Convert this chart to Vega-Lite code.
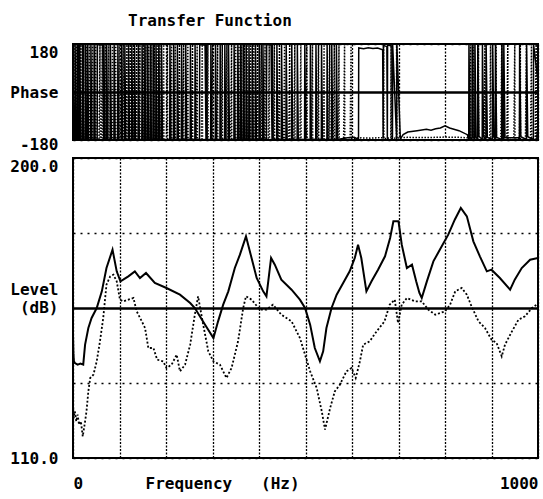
{
"$schema": "https://vega.github.io/schema/vega-lite/v6.json",
"autosize": {"type": "pad"},
"padding": {"left": 8, "top": 12, "right": 4, "bottom": 4},
"background": "white",
"bounds": "flush",
"spacing": 18,
"config": {
  "font": "DejaVu Sans Mono",
  "view": {"stroke": "black", "strokeWidth": 2},
  "axis": {"labelFont": "DejaVu Sans Mono", "labelFontWeight": "bold", "labelFontSize": 16, "labelColor": "black", "ticks": false, "tickSize": 0, "domain": false, "gridColor": "black", "gridOpacity": 1, "labelOverlap": false, "labelBound": false, "titleFont": "DejaVu Sans Mono", "titleFontWeight": "bold", "titleFontSize": 16, "titleColor": "black"},
  "title": {"font": "DejaVu Sans Mono", "fontWeight": "bold", "fontSize": 16, "color": "black"}
},
"datasets": {
  "ls": [
    {"f":0,"v":147},{"f":1,"v":141},{"f":2,"v":139},{"f":4,"v":138.5},{"f":10,"v":138},{"f":16,"v":138.3},{"f":22,"v":138},{"f":26,"v":144},{"f":33,"v":149},{"f":40,"v":152},{"f":51,"v":155},{"f":62,"v":160},{"f":72,"v":167},{"f":85,"v":172.5},{"f":94,"v":166},{"f":102,"v":163},{"f":108,"v":163.5},{"f":119,"v":164.5},{"f":133,"v":166},{"f":144,"v":164},{"f":157,"v":165.5},{"f":176,"v":162.5},{"f":201,"v":161},{"f":230,"v":159},{"f":252,"v":156.5},{"f":262,"v":155},{"f":284,"v":150},{"f":302,"v":146},{"f":312,"v":151},{"f":323,"v":156},{"f":334,"v":160},{"f":348,"v":167},{"f":359,"v":171},{"f":372,"v":176.5},{"f":384,"v":170},{"f":395,"v":164},{"f":409,"v":160},{"f":416,"v":158.5},{"f":426,"v":170},{"f":434,"v":168},{"f":448,"v":163.5},{"f":470,"v":160.5},{"f":488,"v":157.5},{"f":499,"v":155},{"f":510,"v":150},{"f":520,"v":143},{"f":531,"v":139},{"f":538,"v":142},{"f":545,"v":149},{"f":556,"v":155},{"f":567,"v":159},{"f":581,"v":162.5},{"f":595,"v":166},{"f":606,"v":170},{"f":613,"v":174},{"f":620,"v":170},{"f":631,"v":160},{"f":642,"v":163},{"f":656,"v":166.5},{"f":671,"v":170.5},{"f":682,"v":176},{"f":689,"v":181},{"f":700,"v":181},{"f":707,"v":174},{"f":718,"v":167},{"f":729,"v":168},{"f":738,"v":163},{"f":745,"v":159.5},{"f":750,"v":158},{"f":761,"v":163},{"f":775,"v":169},{"f":793,"v":173.5},{"f":807,"v":177},{"f":821,"v":181.5},{"f":834,"v":185},{"f":847,"v":182.5},{"f":861,"v":175},{"f":875,"v":170.5},{"f":890,"v":166},{"f":900,"v":166.5},{"f":918,"v":164},{"f":940,"v":160.5},{"f":950,"v":163.5},{"f":965,"v":167},{"f":983,"v":169.5},{"f":1000,"v":170}
  ],
  "ld": [
    {"f":0,"v":126},{"f":1.5,"v":122},{"f":4,"v":124},{"f":7,"v":121},{"f":10,"v":123},{"f":13,"v":120},{"f":17,"v":121},{"f":21,"v":116.5},{"f":26,"v":121},{"f":29,"v":124},{"f":33,"v":130},{"f":37,"v":134},{"f":44,"v":135},{"f":51,"v":139},{"f":58,"v":145},{"f":65,"v":152},{"f":72,"v":162},{"f":80,"v":164.5},{"f":87,"v":165},{"f":94,"v":163},{"f":101,"v":157.5},{"f":108,"v":157},{"f":119,"v":157.5},{"f":130,"v":158},{"f":137,"v":154},{"f":148,"v":151},{"f":155,"v":149},{"f":162,"v":143},{"f":173,"v":143},{"f":181,"v":139.5},{"f":194,"v":139},{"f":201,"v":137},{"f":212,"v":138},{"f":223,"v":141},{"f":230,"v":136},{"f":241,"v":138},{"f":252,"v":144},{"f":262,"v":153},{"f":269,"v":158.5},{"f":280,"v":150},{"f":291,"v":142},{"f":302,"v":139},{"f":316,"v":138},{"f":330,"v":134},{"f":341,"v":137},{"f":355,"v":145},{"f":366,"v":155},{"f":372,"v":158.5},{"f":384,"v":157.5},{"f":402,"v":154.5},{"f":416,"v":154.5},{"f":430,"v":156},{"f":448,"v":153},{"f":470,"v":151},{"f":488,"v":146},{"f":499,"v":141},{"f":510,"v":136},{"f":524,"v":131},{"f":535,"v":124},{"f":542,"v":118.5},{"f":553,"v":125},{"f":563,"v":130},{"f":574,"v":132},{"f":588,"v":136},{"f":599,"v":137},{"f":608,"v":134},{"f":617,"v":139},{"f":624,"v":144},{"f":638,"v":145},{"f":653,"v":148},{"f":670,"v":151},{"f":681,"v":156},{"f":692,"v":157.5},{"f":699,"v":150.5},{"f":707,"v":156},{"f":718,"v":158},{"f":736,"v":157},{"f":750,"v":157},{"f":764,"v":154.5},{"f":779,"v":153},{"f":800,"v":154},{"f":811,"v":156},{"f":822,"v":160},{"f":836,"v":161},{"f":847,"v":159},{"f":857,"v":155.5},{"f":872,"v":151},{"f":886,"v":149},{"f":900,"v":145.5},{"f":911,"v":144.5},{"f":922,"v":140.5},{"f":929,"v":144},{"f":944,"v":148},{"f":958,"v":151.5},{"f":972,"v":152.5},{"f":987,"v":155},{"f":997,"v":156},{"f":1000,"v":156.5}
  ],
  "ps": [
    {"f":0,"v":60},{"f":2,"v":-178},
    {"f":4,"v":-178},{"f":4.5,"v":178},{"f":6.5,"v":-178},
    {"f":9,"v":-178},{"f":9.5,"v":178},{"f":11.5,"v":-178},
    {"f":14,"v":-178},{"f":14.5,"v":178},{"f":16.5,"v":-178},
    {"f":20,"v":-178},{"f":20.5,"v":178},{"f":22.5,"v":-178},
    {"f":26,"v":-178},{"f":26.5,"v":178},{"f":28.5,"v":-178},
    {"f":31,"v":-178},{"f":31.5,"v":178},{"f":33.5,"v":-178},
    {"f":38,"v":-178},{"f":38.5,"v":178},{"f":40.5,"v":-178},
    {"f":45,"v":-178},{"f":45.5,"v":178},{"f":47.5,"v":-178},
    {"f":52,"v":-178},{"f":52.5,"v":178},{"f":64,"v":176},
    {"f":66,"v":-178},{"f":66.5,"v":178},{"f":68.5,"v":-178},
    {"f":72,"v":-178},{"f":72.5,"v":178},{"f":74.5,"v":-178},
    {"f":80,"v":-178},{"f":80.5,"v":178},{"f":82.5,"v":-178},
    {"f":88,"v":-178},{"f":88.5,"v":178},{"f":90.5,"v":-178},
    {"f":96,"v":-178},{"f":96.5,"v":178},{"f":98.5,"v":-178},
    {"f":104,"v":-178},{"f":104.5,"v":178},{"f":106.5,"v":-178},
    {"f":111,"v":-178},{"f":111.5,"v":178},{"f":113.5,"v":-178},
    {"f":119,"v":-178},{"f":119.5,"v":178},{"f":121.5,"v":-178},
    {"f":126,"v":-178},{"f":126.5,"v":178},{"f":128.5,"v":-178},
    {"f":132,"v":-178},{"f":132.5,"v":178},{"f":134.5,"v":-178},
    {"f":140,"v":-178},{"f":140.5,"v":178},{"f":142.5,"v":-178},
    {"f":148,"v":-178},{"f":148.5,"v":178},{"f":150.5,"v":-178},
    {"f":154,"v":-178},{"f":154.5,"v":178},{"f":156.5,"v":-178},
    {"f":160,"v":-178},{"f":160.5,"v":178},{"f":162.5,"v":-178},
    {"f":166,"v":-178},{"f":166.5,"v":178},{"f":168.5,"v":-178},
    {"f":172,"v":-178},{"f":172.5,"v":178},{"f":174.5,"v":-178},
    {"f":178,"v":-178},{"f":178.5,"v":178},{"f":180.5,"v":-178},
    {"f":184,"v":-178},{"f":184.5,"v":178},{"f":186.5,"v":-178},
    {"f":190,"v":-178},{"f":190.5,"v":178},{"f":192.5,"v":-178},
    {"f":208,"v":-178},{"f":208.5,"v":178},{"f":210.5,"v":-178},
    {"f":216,"v":-178},{"f":216.5,"v":178},{"f":218.5,"v":-178},
    {"f":224,"v":-178},{"f":224.5,"v":178},{"f":226.5,"v":-178},
    {"f":233,"v":-178},{"f":233.5,"v":178},{"f":235.5,"v":-178},
    {"f":242,"v":-178},{"f":242.5,"v":178},{"f":244.5,"v":-178},
    {"f":252,"v":-178},{"f":252.5,"v":178},{"f":254.5,"v":-178},
    {"f":262,"v":-178},{"f":262.5,"v":178},{"f":264.5,"v":-178},
    {"f":272,"v":-178},{"f":272.5,"v":178},{"f":284,"v":175},
    {"f":286,"v":-178},{"f":286.5,"v":178},{"f":288.5,"v":-178},
    {"f":296,"v":-178},{"f":296.5,"v":178},{"f":298.5,"v":-178},
    {"f":306,"v":-178},{"f":306.5,"v":178},{"f":308.5,"v":-178},
    {"f":316,"v":-178},{"f":316.5,"v":178},{"f":318.5,"v":-178},
    {"f":326,"v":-178},{"f":326.5,"v":178},{"f":328.5,"v":-178},
    {"f":334,"v":-178},{"f":334.5,"v":178},{"f":336.5,"v":-178},
    {"f":346,"v":-178},{"f":346.5,"v":178},{"f":348.5,"v":-178},
    {"f":354,"v":-178},{"f":354.5,"v":178},{"f":356.5,"v":-178},
    {"f":360,"v":-178},{"f":360.5,"v":178},{"f":362.5,"v":-178},
    {"f":366,"v":-178},{"f":366.5,"v":178},{"f":368.5,"v":-178},
    {"f":372,"v":-178},{"f":372.5,"v":178},{"f":374.5,"v":-178},
    {"f":378,"v":-178},{"f":378.5,"v":178},{"f":380.5,"v":-178},
    {"f":385,"v":-178},{"f":385.5,"v":178},{"f":387.5,"v":-178},
    {"f":392,"v":-178},{"f":392.5,"v":178},{"f":394.5,"v":-178},
    {"f":400,"v":-178},{"f":400.5,"v":178},{"f":402.5,"v":-178},
    {"f":408,"v":-178},{"f":408.5,"v":178},{"f":410.5,"v":-178},
    {"f":416,"v":-178},{"f":416.5,"v":178},{"f":426,"v":176},
    {"f":428,"v":-178},{"f":428.5,"v":178},{"f":430.5,"v":-178},
    {"f":438,"v":-178},{"f":438.5,"v":178},{"f":440.5,"v":-178},
    {"f":448,"v":-178},{"f":448.5,"v":178},{"f":450.5,"v":-178},
    {"f":458,"v":-178},{"f":458.5,"v":178},{"f":460.5,"v":-178},
    {"f":470,"v":-178},{"f":470.5,"v":178},{"f":472.5,"v":-178},
    {"f":482,"v":-178},{"f":482.5,"v":178},{"f":484.5,"v":-178},
    {"f":498,"v":-178},{"f":498.5,"v":178},{"f":500.5,"v":-178},
    {"f":510,"v":-178},{"f":510.5,"v":178},{"f":512.5,"v":-178},
    {"f":522,"v":-178},{"f":522.5,"v":178},{"f":524.5,"v":-178},
    {"f":534,"v":-178},{"f":534.5,"v":178},{"f":536.5,"v":-178},
    {"f":546,"v":-178},{"f":546.5,"v":178},{"f":548.5,"v":-178},
    {"f":556,"v":-178},{"f":556.5,"v":178},{"f":558.5,"v":-178},
    {"f":566,"v":-178},{"f":566.5,"v":178},{"f":568.5,"v":-178},
    {"f":590,"v":-172},{"f":605,"v":-170},{"f":614,"v":-178},{"f":614.5,"v":165},{"f":625,"v":162},{"f":635,"v":166},{"f":645,"v":163},{"f":655,"v":165},{"f":666,"v":158},
    {"f":667,"v":-175},{"f":667.5,"v":175},{"f":675,"v":170},{"f":676,"v":-176},{"f":676.5,"v":176},{"f":686,"v":172},{"f":687,"v":-176},{"f":687.5,"v":176},{"f":696,"v":-176},{"f":696.5,"v":176},{"f":704,"v":-176},
    {"f":710,"v":-160},{"f":720,"v":-150},{"f":740,"v":-145},{"f":760,"v":-140},{"f":770,"v":-143},{"f":780,"v":-138},{"f":790,"v":-135},{"f":800,"v":-127},{"f":810,"v":-135},{"f":830,"v":-145},{"f":848,"v":-160},
    {"f":851,"v":-178},{"f":851.5,"v":178},{"f":854,"v":-170},{"f":858,"v":-178},{"f":858.5,"v":178},{"f":860.5,"v":-168},{"f":864,"v":-178},{"f":864.5,"v":178},{"f":866.5,"v":-168},{"f":870,"v":-178},{"f":870.5,"v":178},{"f":873,"v":-166},{"f":880,"v":-178},{"f":880.5,"v":178},{"f":883,"v":-168},{"f":888,"v":-178},{"f":888.5,"v":178},{"f":891,"v":-170},{"f":902,"v":-178},{"f":902.5,"v":178},{"f":905,"v":-168},{"f":908,"v":-178},{"f":908.5,"v":178},{"f":911,"v":-170},{"f":922,"v":-178},{"f":922.5,"v":178},{"f":924,"v":-168},{"f":926,"v":-178},{"f":926.5,"v":178},{"f":929,"v":-172},{"f":958,"v":-172},{"f":960,"v":-178},{"f":960.5,"v":178},{"f":963,"v":-168},{"f":975,"v":-178},{"f":975.5,"v":178},{"f":978,"v":-168},{"f":990,"v":-178},{"f":990.5,"v":178},{"f":1000,"v":40}
  ],
  "pd": [
    {"f":0,"v":-178},
    {"f":2,"v":178},{"f":2.5,"v":-178},
    {"f":5,"v":-178},{"f":7,"v":178},{"f":7.5,"v":-178},
    {"f":10,"v":-178},{"f":12,"v":178},{"f":12.5,"v":-178},
    {"f":15,"v":-178},{"f":17,"v":178},{"f":17.5,"v":-178},
    {"f":21,"v":-178},{"f":23,"v":178},{"f":23.5,"v":-178},
    {"f":27,"v":-178},{"f":29,"v":178},{"f":29.5,"v":-178},
    {"f":33,"v":-178},{"f":35,"v":178},{"f":35.5,"v":-178},
    {"f":40,"v":-178},{"f":42,"v":178},{"f":42.5,"v":-178},
    {"f":47,"v":-178},{"f":49,"v":178},{"f":49.5,"v":-178},
    {"f":56,"v":-178},{"f":58,"v":178},{"f":58.5,"v":-178},
    {"f":61,"v":-178},{"f":63,"v":178},{"f":63.5,"v":-178},
    {"f":68,"v":-178},{"f":70,"v":178},{"f":70.5,"v":-178},
    {"f":75,"v":-178},{"f":77,"v":178},{"f":77.5,"v":-178},
    {"f":83,"v":-178},{"f":85,"v":178},{"f":85.5,"v":-178},
    {"f":90,"v":-178},{"f":92,"v":178},{"f":92.5,"v":-178},
    {"f":98,"v":-178},{"f":100,"v":178},{"f":100.5,"v":-178},
    {"f":106,"v":-178},{"f":108,"v":178},{"f":108.5,"v":-178},
    {"f":114,"v":-178},{"f":116,"v":178},{"f":116.5,"v":-178},
    {"f":121,"v":-178},{"f":123,"v":178},{"f":123.5,"v":-178},
    {"f":128,"v":-178},{"f":130,"v":178},{"f":130.5,"v":-178},
    {"f":135,"v":-178},{"f":137,"v":178},{"f":137.5,"v":-178},
    {"f":142,"v":-178},{"f":144,"v":178},{"f":144.5,"v":-178},
    {"f":149,"v":-178},{"f":151,"v":178},{"f":151.5,"v":-178},
    {"f":155,"v":-178},{"f":157,"v":178},{"f":157.5,"v":-178},
    {"f":161,"v":-178},{"f":163,"v":178},{"f":163.5,"v":-178},
    {"f":167,"v":-178},{"f":169,"v":178},{"f":169.5,"v":-178},
    {"f":173,"v":-178},{"f":175,"v":178},{"f":175.5,"v":-178},
    {"f":179,"v":-178},{"f":181,"v":178},{"f":181.5,"v":-178},
    {"f":185,"v":-178},{"f":187,"v":178},{"f":187.5,"v":-178},
    {"f":193,"v":-178},{"f":195,"v":178},{"f":195.5,"v":-178},
    {"f":201,"v":-178},{"f":203,"v":178},{"f":203.5,"v":-178},
    {"f":210,"v":-178},{"f":212,"v":178},{"f":212.5,"v":-178},
    {"f":218,"v":-178},{"f":220,"v":178},{"f":220.5,"v":-178},
    {"f":227,"v":-178},{"f":229,"v":178},{"f":229.5,"v":-178},
    {"f":236,"v":-178},{"f":238,"v":178},{"f":238.5,"v":-178},
    {"f":245,"v":-178},{"f":247,"v":178},{"f":247.5,"v":-178},
    {"f":255,"v":-178},{"f":257,"v":178},{"f":257.5,"v":-178},
    {"f":265,"v":-178},{"f":267,"v":178},{"f":267.5,"v":-178},
    {"f":276,"v":-178},{"f":278,"v":178},{"f":278.5,"v":-178},
    {"f":288,"v":-178},{"f":290,"v":178},{"f":290.5,"v":-178},
    {"f":298,"v":-178},{"f":300,"v":178},{"f":300.5,"v":-178},
    {"f":309,"v":-178},{"f":311,"v":178},{"f":311.5,"v":-178},
    {"f":319,"v":-178},{"f":321,"v":178},{"f":321.5,"v":-178},
    {"f":329,"v":-178},{"f":331,"v":178},{"f":331.5,"v":-178},
    {"f":339,"v":-178},{"f":341,"v":178},{"f":341.5,"v":-178},
    {"f":348,"v":-178},{"f":350,"v":178},{"f":350.5,"v":-178},
    {"f":355,"v":-178},{"f":357,"v":178},{"f":357.5,"v":-178},
    {"f":361,"v":-178},{"f":363,"v":178},{"f":363.5,"v":-178},
    {"f":367,"v":-178},{"f":369,"v":178},{"f":369.5,"v":-178},
    {"f":373,"v":-178},{"f":375,"v":178},{"f":375.5,"v":-178},
    {"f":380,"v":-178},{"f":382,"v":178},{"f":382.5,"v":-178},
    {"f":387,"v":-178},{"f":389,"v":178},{"f":389.5,"v":-178},
    {"f":395,"v":-178},{"f":397,"v":178},{"f":397.5,"v":-178},
    {"f":403,"v":-178},{"f":405,"v":178},{"f":405.5,"v":-178},
    {"f":411,"v":-178},{"f":413,"v":178},{"f":413.5,"v":-178},
    {"f":420,"v":-178},{"f":422,"v":178},{"f":422.5,"v":-178},
    {"f":431,"v":-178},{"f":433,"v":178},{"f":433.5,"v":-178},
    {"f":442,"v":-178},{"f":444,"v":178},{"f":444.5,"v":-178},
    {"f":453,"v":-178},{"f":455,"v":178},{"f":455.5,"v":-178},
    {"f":464,"v":-178},{"f":466,"v":178},{"f":466.5,"v":-178},
    {"f":475,"v":-178},{"f":477,"v":178},{"f":477.5,"v":-178},
    {"f":488,"v":-178},{"f":490,"v":178},{"f":490.5,"v":-178},
    {"f":501,"v":-178},{"f":503,"v":178},{"f":503.5,"v":-178},
    {"f":513,"v":-178},{"f":515,"v":178},{"f":515.5,"v":-178},
    {"f":526,"v":-178},{"f":528,"v":178},{"f":528.5,"v":-178},
    {"f":538,"v":-178},{"f":540,"v":178},{"f":540.5,"v":-178},
    {"f":550,"v":-178},{"f":552,"v":178},{"f":552.5,"v":-178},
    {"f":560,"v":-178},{"f":562,"v":178},{"f":562.5,"v":-178},
    {"f":570,"v":-178},{"f":572,"v":178},{"f":572.5,"v":-178},
    {"f":582,"v":-178},{"f":584,"v":178},{"f":584.5,"v":-178},
    {"f":596,"v":-178},{"f":598,"v":178},{"f":598.5,"v":-178},
    {"f":600,"v":-174},{"f":620,"v":-172},{"f":640,"v":-173},{"f":660,"v":-171},{"f":667.5,"v":-172},{"f":668,"v":175},{"f":668.5,"v":-175},{"f":683.5,"v":-172},{"f":684,"v":175},{"f":684.5,"v":-175},{"f":695.5,"v":-172},{"f":696,"v":175},{"f":696.5,"v":-175},{"f":700,"v":-172},{"f":720,"v":-170},{"f":760,"v":-171},{"f":800,"v":-169},{"f":830,"v":-170},{"f":852,"v":-172},
    {"f":853,"v":-178},{"f":855,"v":178},{"f":855.5,"v":-178},
    {"f":860,"v":-178},{"f":862,"v":178},{"f":862.5,"v":-178},
    {"f":870,"v":-178},{"f":872,"v":178},{"f":872.5,"v":-178},
    {"f":884,"v":-178},{"f":886,"v":178},{"f":886.5,"v":-178},
    {"f":896,"v":-178},{"f":898,"v":178},{"f":898.5,"v":-178},
    {"f":908,"v":-178},{"f":910,"v":178},{"f":910.5,"v":-178},
    {"f":920,"v":-178},{"f":922,"v":178},{"f":922.5,"v":-178},
    {"f":933,"v":-178},{"f":935,"v":178},{"f":935.5,"v":-178},
    {"f":948,"v":-178},{"f":950,"v":178},{"f":950.5,"v":-178},
    {"f":960,"v":-178},{"f":962,"v":178},{"f":962.5,"v":-178},
    {"f":973,"v":-178},{"f":975,"v":178},{"f":975.5,"v":-178},
    {"f":984,"v":-178},{"f":986,"v":178},{"f":986.5,"v":-178},
    {"f":994,"v":-178},{"f":996,"v":178},{"f":996.5,"v":-178},
    {"f":1000,"v":-120}
  ]
},
"vconcat": [
  {
    "width": 465,
    "height": 96,
    "title": {"text": "Transfer Function", "anchor": "start", "frame": "group", "dx": 55, "offset": 15},
    "layer": [
      {
        "data": {"name": "ps"},
        "mark": {"type": "line", "color": "black", "strokeWidth": 1.5, "clip": true},
        "encoding": {
          "x": {"field": "f", "type": "quantitative", "scale": {"domain": [0, 1000], "nice": false, "zero": false},
                "axis": {"values": [0,100,200,300,400,500,600,700,800,900,1000], "labels": false, "grid": true, "gridDash": [2, 1.5], "gridWidth": 1.3, "title": null}},
          "y": {"field": "v", "type": "quantitative", "scale": {"domain": [-180, 180], "nice": false, "zero": false},
                "axis": {"values": [-180, -90, 0, 90, 180], "title": null, "grid": true,
                         "gridDash": {"condition": {"test": "datum.value === 0", "value": []}, "value": [2, 5]},
                         "gridWidth": {"condition": {"test": "datum.value === 0", "value": 2.5}, "value": 1.3},
                         "labelExpr": "datum.value === 180 ? '180' : datum.value === 0 ? 'Phase' : datum.value === -180 ? '-180' : ''",
                         "labelBaseline": {"condition": {"test": "datum.value === 180", "value": "top"}, "value": "middle"},
                         "labelOffset": {"condition": {"test": "datum.value === -180", "value": 4}, "value": 0},
                         "labelFlush": false, "labelPadding": 15}}
        }
      },
      {
        "data": {"name": "pd"},
        "mark": {"type": "line", "color": "black", "strokeWidth": 1.5, "strokeDash": [1.5, 1.5], "clip": true},
        "encoding": {
          "x": {"field": "f", "type": "quantitative"},
          "y": {"field": "v", "type": "quantitative"}
        }
      }
    ]
  },
  {
    "width": 465,
    "height": 300,
    "layer": [
      {
        "data": {"name": "ld"},
        "mark": {"type": "line", "color": "black", "strokeWidth": 1.8, "strokeDash": [2, 2], "clip": true},
        "encoding": {
          "x": {"field": "f", "type": "quantitative", "scale": {"domain": [0, 1000], "nice": false, "zero": false},
                "axis": {"values": [0,100,200,300,400,500,600,700,800,900,1000], "format": "d", "grid": true, "gridDash": [2, 1.5], "gridWidth": 1.3,
                         "labelExpr": "datum.value === 0 || datum.value === 1000 ? datum.label : ''",
                         "labelFlush": true, "labelBaseline": "middle", "labelPadding": 25,
                         "title": "Frequency\u00a0\u00a0\u00a0(Hz)", "titleX": 72, "titleY": 25, "titleAlign": "left", "titleBaseline": "middle", "titleAnchor": "start"}},
          "y": {"field": "v", "type": "quantitative", "scale": {"domain": [110, 200], "nice": false, "zero": false},
                "axis": {"values": [110, 132.5, 155, 177.5, 200], "title": null, "grid": true,
                         "gridDash": {"condition": {"test": "datum.value === 155", "value": []}, "value": [2, 5]},
                         "gridWidth": {"condition": {"test": "datum.value === 155", "value": 2.5}, "value": 1.3},
                         "labelExpr": "datum.value === 200 ? '200.0' : datum.value === 110 ? '110.0' : datum.value === 155 ? ['Level', '(dB)'] : ''",
                         "labelBaseline": {"condition": {"test": "datum.value === 200", "value": "top"}, "value": "middle"},
                         "labelOffset": {"condition": {"test": "datum.value === 155", "value": -19}, "value": 0},
                         "labelFlush": false, "labelPadding": 15}}
        }
      },
      {
        "data": {"name": "ls"},
        "mark": {"type": "line", "color": "black", "strokeWidth": 2, "clip": true},
        "encoding": {
          "x": {"field": "f", "type": "quantitative"},
          "y": {"field": "v", "type": "quantitative"}
        }
      }
    ]
  }
]
}
